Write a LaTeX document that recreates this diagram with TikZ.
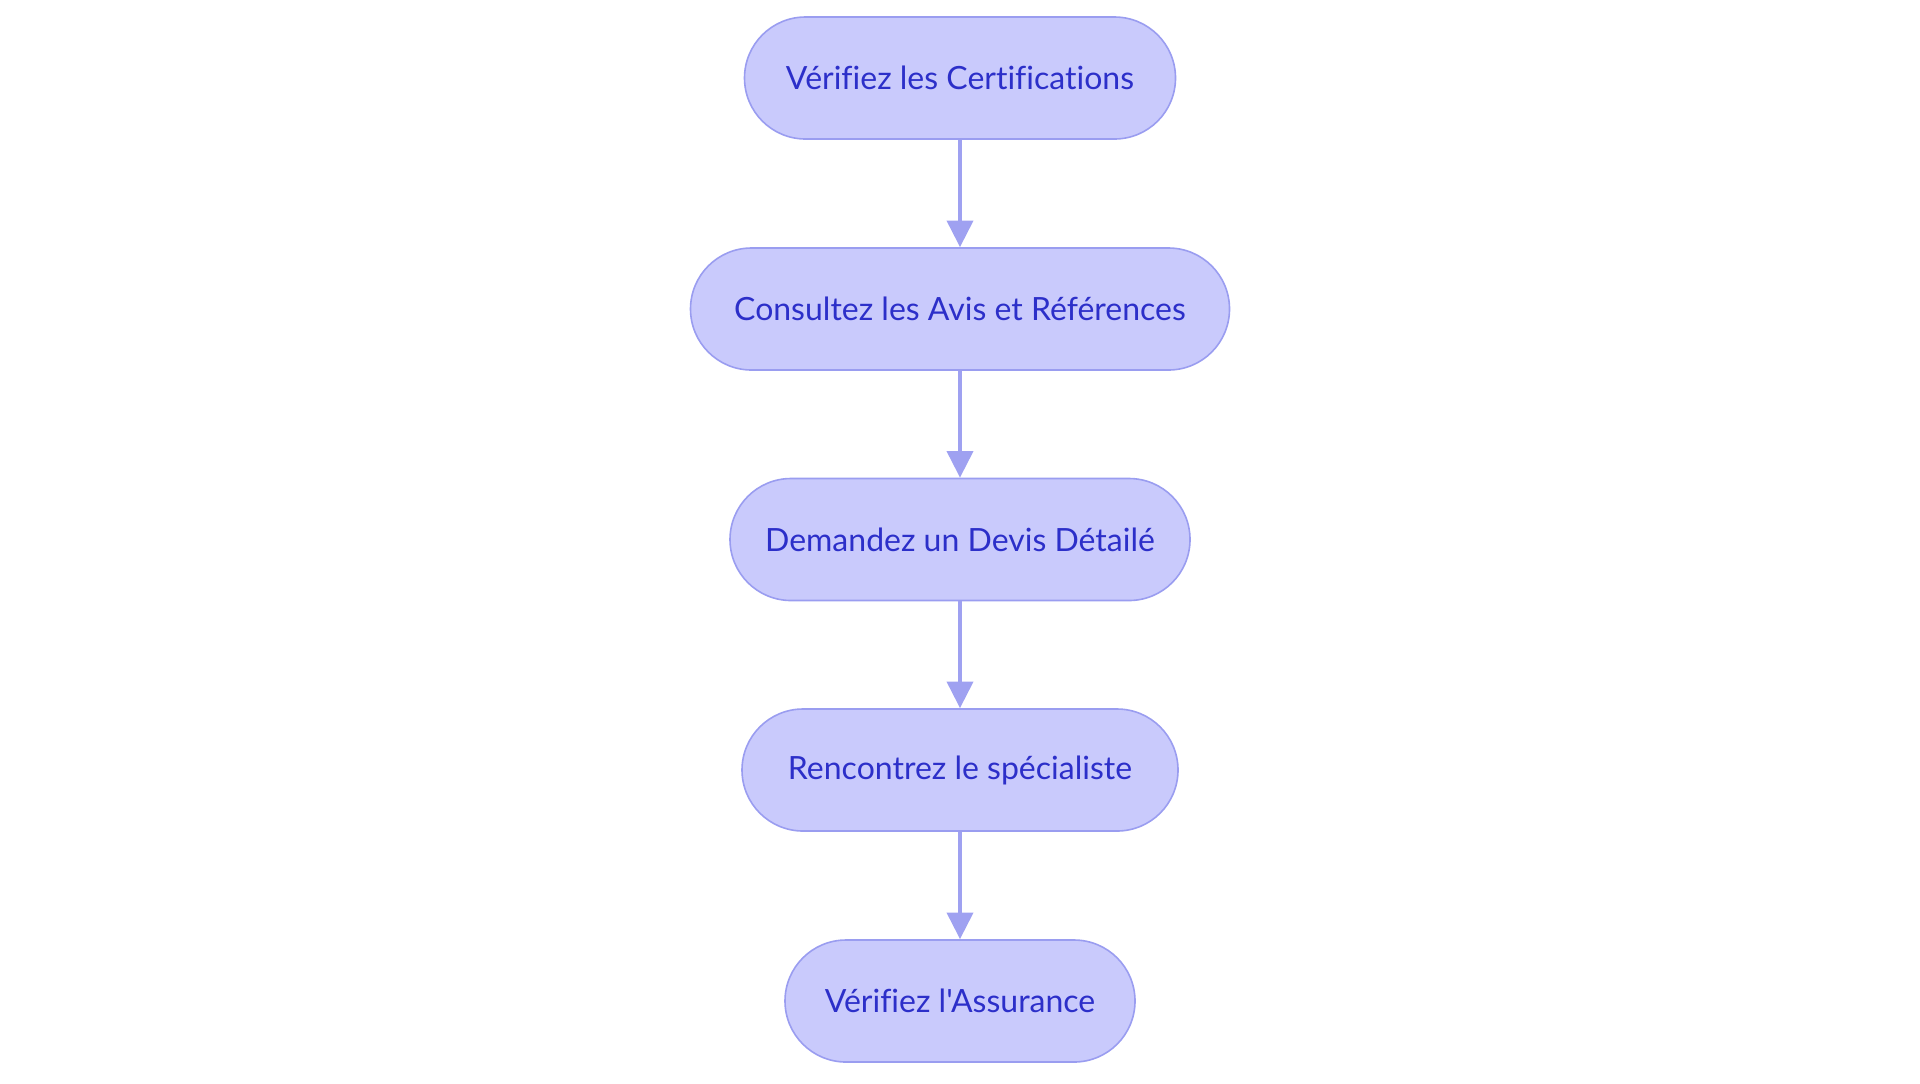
\documentclass[tikz,border=0pt]{standalone}
\usepackage{fontspec}
\newfontfamily\lab{Lato}[Ligatures=NoCommon]
\usetikzlibrary{arrows.meta}
\definecolor{nodefill}{HTML}{C9CAFC}
\definecolor{nodeline}{HTML}{9A9DF0}
\definecolor{nodetext}{HTML}{2C2FC9}
\definecolor{arrowcol}{HTML}{9FA1F1}
\tikzset{
  pill/.style={draw=nodeline, fill=nodefill, line width=1.2pt, rounded corners=45.75pt,
    minimum height=91.5pt, inner sep=0pt, text=nodetext, font=\lab\fontsize{24}{28}\selectfont},
  flow/.style={draw=arrowcol, line width=3pt, -{Triangle[width=19.5pt,length=20pt]}}
}
\begin{document}
\begin{tikzpicture}[x=0.75pt,y=-0.75pt]
\useasboundingbox (0,0) rectangle (1920,1083);
\node[pill, minimum width=323.25pt] (n1) at (960,78) {Vérifiez les Certifications};
\node[pill, minimum width=404.25pt] (n2) at (960,309) {Consultez les Avis et Références};
\node[pill, minimum width=345pt] (n3) at (960,539.5) {Demandez un Devis Détailé};
\node[pill, minimum width=327pt] (n4) at (960,770) {Rencontrez le spécialiste};
\node[pill, minimum width=262.5pt] (n5) at (960,1001) {Vérifiez l'Assurance};
\draw[flow] (n1) -- (n2);
\draw[flow] (n2) -- (n3);
\draw[flow] (n3) -- (n4);
\draw[flow] (n4) -- (n5);
\end{tikzpicture}
\end{document}
